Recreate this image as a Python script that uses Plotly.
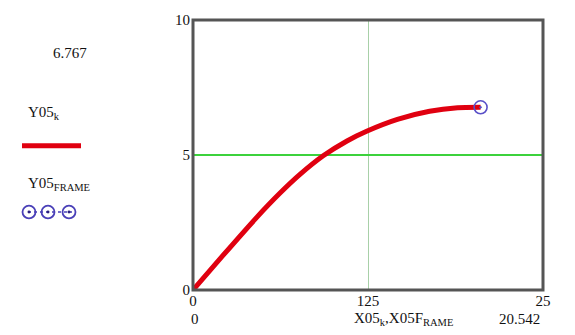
import plotly.graph_objects as go

# Trajectory Y05 vs X05 and the frame end point
x05_k = [0, 2.14, 4.57, 6.2, 7.64, 9.3, 11.0, 12.4, 14.6, 16.9, 18.9, 20.542]
y05_k = [0, 1.28, 2.7, 3.58, 4.28, 4.97, 5.52, 5.88, 6.32, 6.62, 6.75, 6.767]
x05_frame = [20.542]
y05_frame = [6.767]

x_range = [0, 25]
y_range = [0, 10]
x_tickvals = [0, 12.5, 25]
x_ticktext = ["0", "125", "25"]
y_tickvals = [0, 5, 10]
y_ticktext = ["0", "5", "10"]

W, H = 575, 335
L, R, T, B = 193, 543, 13, 290
SERIF = "Liberation Serif, Times New Roman, Times, serif"


def px(x):
    return (x - L) / (R - L)


def py(y):
    return (B - y) / (B - T)


fig = go.Figure()
fig.add_trace(go.Scatter(x=x05_k, y=y05_k, mode="lines",
                         line=dict(color="#e00010", width=5, shape="spline", smoothing=0.6),
                         hoverinfo="skip"))
fig.add_trace(go.Scatter(x=x05_frame, y=y05_frame, mode="markers",
                         marker=dict(symbol="circle-open-dot", size=13,
                                     color="#5a50c8", line=dict(width=1.6)),
                         hoverinfo="skip"))

fig.update_xaxes(range=x_range, tickvals=x_tickvals, ticktext=x_ticktext,
                 showgrid=True, gridcolor="#a8d0a8", gridwidth=1,
                 zeroline=False, showline=False, ticks="", ticklabelstandoff=0,
                 tickfont=dict(family=SERIF, size=15, color="#111"))
fig.update_yaxes(range=y_range, tickvals=y_tickvals, ticktext=y_ticktext,
                 showgrid=True, gridcolor="#3cd23c", gridwidth=1.5,
                 zeroline=False, showline=False, ticks="", ticklabelstandoff=2,
                 tickfont=dict(family=SERIF, size=15, color="#111"))

shapes = [
    dict(type="rect", xref="paper", yref="paper", x0=0, x1=1, y0=0, y1=1,
         line=dict(color="#555", width=3), layer="above"),
    # legend sample for the line trace
    dict(type="line", xref="paper", yref="paper",
         x0=px(22), x1=px(81), y0=py(142), y1=py(142),
         line=dict(color="#e00010", width=5)),
    # legend sample for the point trace
    dict(type="line", xref="paper", yref="paper",
         x0=px(28), x1=px(72), y0=py(210), y1=py(210),
         line=dict(color="#4a40b8", width=1.5, dash="dot")),
]
for cx in (29, 48, 69):
    shapes.append(dict(type="circle", xref="paper", yref="paper",
                       x0=px(cx - 6.5), x1=px(cx + 6.5), y0=py(203.5), y1=py(216.5),
                       line=dict(color="#4a40b8", width=1.8)))
    shapes.append(dict(type="circle", xref="paper", yref="paper",
                       x0=px(cx - 1.5), x1=px(cx + 1.5), y0=py(208.5), y1=py(211.5),
                       fillcolor="#2a2080", line=dict(width=0)))

font = dict(family=SERIF, size=15, color="#111")
annotations = [
    dict(x=px(70), y=py(47), text="6.767", xanchor="center", yanchor="middle"),
    dict(x=px(26), y=py(108), text="Y05<sub>k</sub>", xanchor="left", yanchor="middle"),
    dict(x=px(26), y=py(181), text="Y05<sub>FRAME</sub>", xanchor="left", yanchor="middle"),
    dict(x=px(195), y=py(320), text="0", xanchor="center", yanchor="middle"),
    dict(x=px(403), y=py(320), text="X05<sub>k</sub>,X05F<sub>RAME</sub>",
         xanchor="center", yanchor="middle"),
    dict(x=px(542), y=py(320), text="20.542", xanchor="right", yanchor="middle"),
]
for a in annotations:
    a.update(xref="paper", yref="paper", showarrow=False, font=font)

fig.update_layout(width=W, height=H, margin=dict(l=L, r=W - R, t=T, b=H - B),
                  paper_bgcolor="white", plot_bgcolor="white", showlegend=False,
                  shapes=shapes, annotations=annotations)

fig.write_html("out.html", config={"displayModeBar": False})
